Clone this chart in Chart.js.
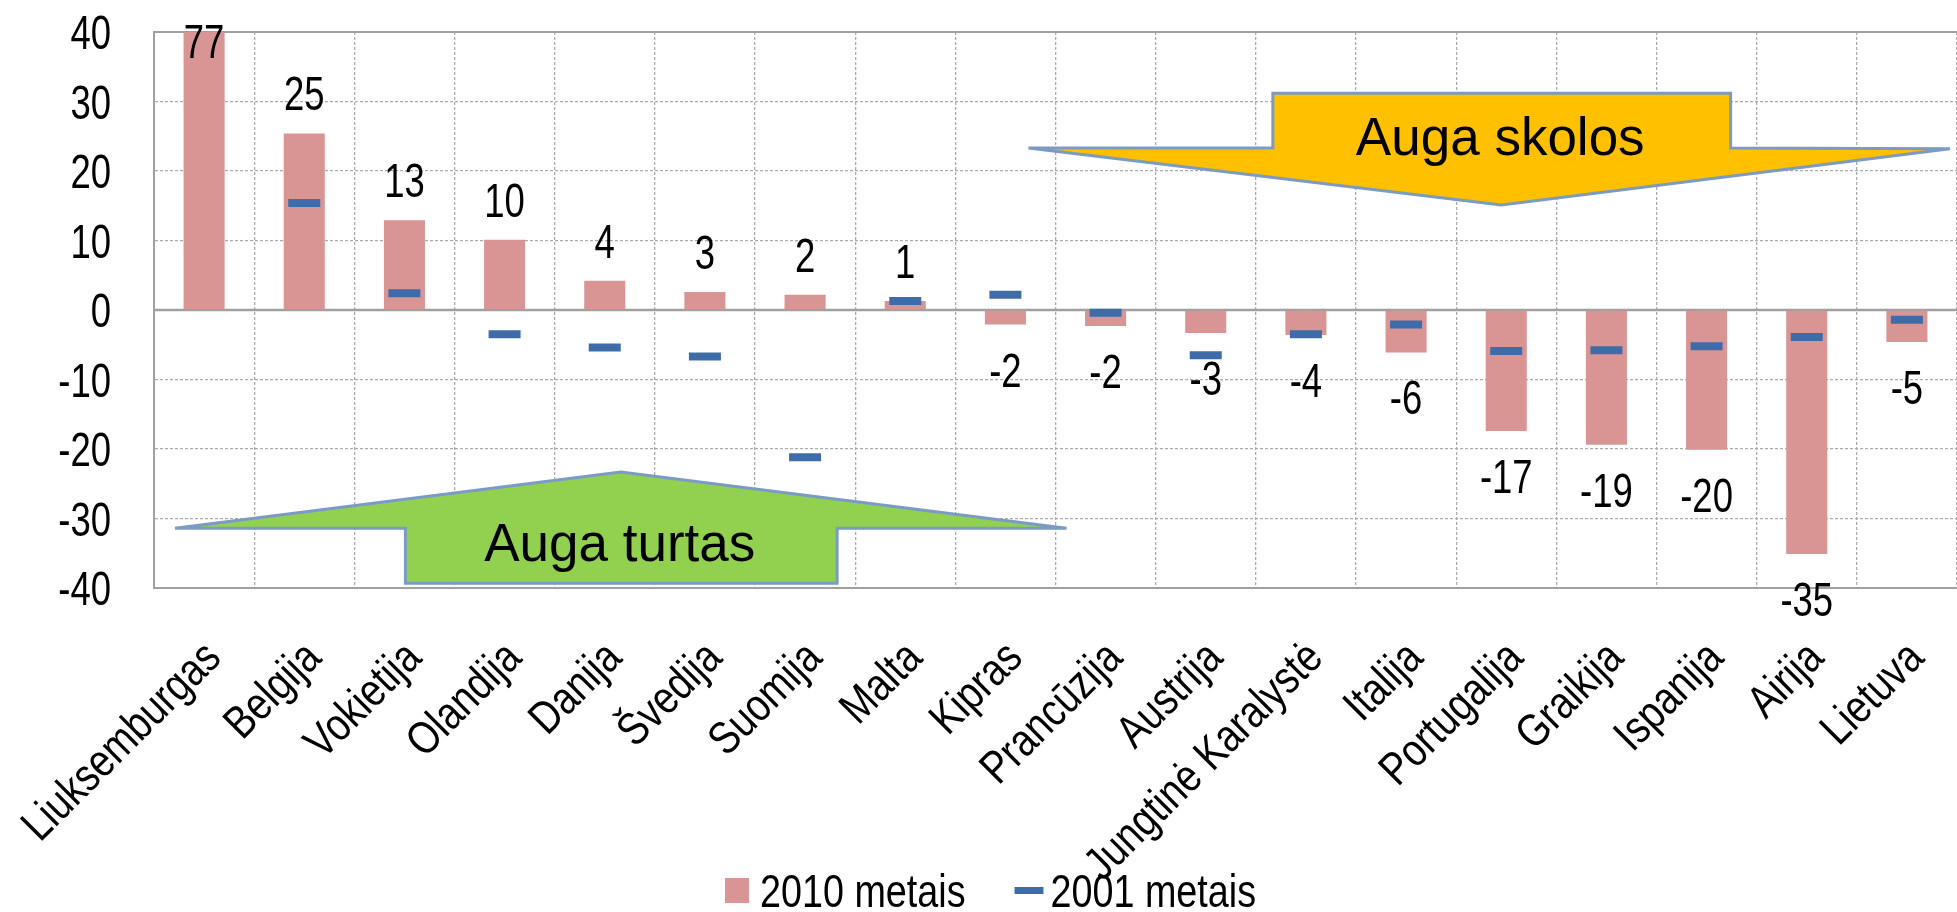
<!DOCTYPE html>
<html>
<head>
<meta charset="utf-8">
<script src="https://cdn.jsdelivr.net/npm/chart.js@4.4.1/dist/chart.umd.min.js"></script>
<style>
  html, body { margin: 0; padding: 0; background: #fff; }
  #wrap { width: 1957px; height: 912px; }
</style>
</head>
<body>
<div id="wrap"><canvas id="chart" width="1957" height="912"></canvas></div>
<script>
// chart values
const countries = ['Liuksemburgas', 'Belgija', 'Vokietija', 'Olandija', 'Danija', 'Švedija', 'Suomija', 'Malta', 'Kipras',
  'Prancūzija', 'Austrija', 'Jungtinė Karalystė', 'Italija', 'Portugalija', 'Graikija', 'Ispanija', 'Airija', 'Lietuva'];
const values2010 = [77, 25.4, 12.9, 10.1, 4.2, 2.6, 2.2, 1.3, -2.1, -2.3, -3.3, -3.6, -6.1, -17.4, -19.4, -20.1, -35.1, -4.6];
const values2001 = [null, 15.4, 2.4, -3.5, -5.4, -6.7, -21.2, 1.3, 2.2, -0.4, -6.5, -3.5, -2.1, -5.9, -5.8, -5.2, -3.9, -1.4];
const yTicks = [-40, -30, -20, -10, 0, 10, 20, 30, 40];
const seriesNames = ['2010 metais', '2001 metais'];

// the original uses a narrow font; no narrow face installed, so text is squeezed horizontally
const regular = '"Liberation Sans", Arial, sans-serif';
const pink = '#d99594';
const blue = '#3e6ca9';
const gridGrey = '#ababab';

function narrowText(ctx, text, x, y, sx, angle) {
  ctx.save();
  ctx.translate(x, y);
  if (angle) ctx.rotate(angle);
  ctx.scale(sx, 1);
  ctx.fillText(text, 0, 0);
  ctx.restore();
}

// arrow callouts, in (category index, value) units
const arrows = [
  {
    fill: '#ffc000', text: 'Auga skolos', textAt: [12.94, 22.3],
    pts: [[8.23, 23.3], [10.67, 23.3], [10.67, 31.2], [15.24, 31.2], [15.24, 23.3], [17.43, 23.2], [12.95, 15.1]]
  },
  {
    fill: '#92d050', text: 'Auga turtas', textAt: [4.15, -36.1],
    pts: [[-0.29, -31.4], [4.16, -23.3], [8.61, -31.4], [6.32, -31.4], [6.32, -39.3], [2.01, -39.3], [2.01, -31.4]]
  }
];

const framePlugin = {
  id: 'frame',
  beforeDatasetsDraw(chart) {
    const {ctx, chartArea, scales: {y}} = chart;
    ctx.save();
    ctx.strokeStyle = '#a0a0a0';
    [[40, 2], [0, 2.5]].forEach(([v, w]) => {
      const py = y.getPixelForValue(v);
      ctx.lineWidth = w;
      ctx.beginPath();
      ctx.moveTo(chartArea.left, py);
      ctx.lineTo(chartArea.right, py);
      ctx.stroke();
    });
    ctx.restore();
  }
};

const calloutPlugin = {
  id: 'callouts',
  afterDatasetsDraw(chart) {
    const {ctx, scales: {x, y}} = chart;
    ctx.save();
    arrows.forEach(a => {
      ctx.beginPath();
      a.pts.forEach(([i, v], k) => {
        const px = x.getPixelForValue(i), py = y.getPixelForValue(v);
        if (k) ctx.lineTo(px, py); else ctx.moveTo(px, py);
      });
      ctx.closePath();
      ctx.fillStyle = a.fill;
      ctx.fill();
      ctx.lineWidth = 3;
      ctx.strokeStyle = '#7b9bc4';
      ctx.stroke();
      ctx.fillStyle = '#000';
      ctx.font = '53px ' + regular;
      ctx.textAlign = 'center';
      ctx.textBaseline = 'alphabetic';
      ctx.fillText(a.text, x.getPixelForValue(a.textAt[0]), y.getPixelForValue(a.textAt[1]));
    });
    ctx.restore();
  }
};

const valueLabels = {
  id: 'valueLabels',
  afterDatasetsDraw(chart) {
    const {ctx, chartArea} = chart;
    const meta = chart.getDatasetMeta(0);
    ctx.save();
    ctx.font = '48px ' + regular;
    ctx.fillStyle = '#000';
    ctx.textAlign = 'center';
    ctx.textBaseline = 'alphabetic';
    meta.data.forEach((bar, i) => {
      const v = values2010[i];
      const mid = v >= 0 ? Math.max(bar.y - 40, chartArea.top + 9) : bar.y + 45;
      narrowText(ctx, String(Math.round(v)), bar.x, mid + 17, 0.76);
    });
    ctx.restore();
  }
};

const axisLabels = {
  id: 'axisLabels',
  afterDraw(chart) {
    const {ctx, scales: {x, y}} = chart;
    ctx.save();
    ctx.fillStyle = '#000';
    ctx.textAlign = 'right';
    ctx.textBaseline = 'alphabetic';
    ctx.font = '48px ' + regular;
    y.ticks.forEach(t => {
      narrowText(ctx, String(t.value), y.right - 43, y.getPixelForValue(t.value) + 17, 0.76);
    });
    ctx.font = '46px ' + regular;
    x.ticks.forEach((t, i) => {
      narrowText(ctx, chart.data.labels[i], x.getPixelForTick(i) + 19, x.top + 72, 0.83, -Math.PI / 4);
    });
    ctx.restore();
  }
};

const bottomLegend = {
  id: 'bottomLegend',
  afterDraw(chart) {
    const {ctx} = chart;
    const ds = chart.data.datasets;
    const sx = 0.82;
    ctx.save();
    ctx.font = '46px ' + regular;
    ctx.textBaseline = 'alphabetic';
    ctx.textAlign = 'left';
    const w0 = ctx.measureText(ds[0].label).width * sx;
    const w1 = ctx.measureText(ds[1].label).width * sx;
    const total = 24 + 11 + w0 + 49 + 29 + 7 + w1;
    let px = chart.width / 2 + 12 - total / 2;
    const cy = 890;
    ctx.fillStyle = ds[0].backgroundColor;
    ctx.fillRect(px, cy - 12, 24, 25);
    px += 24 + 11;
    ctx.fillStyle = '#000';
    narrowText(ctx, ds[0].label, px, cy + 16.5, sx);
    px += w0 + 49;
    ctx.fillStyle = ds[1].pointBorderColor;
    ctx.fillRect(px, cy - 3, 29, 7);
    px += 29 + 7;
    ctx.fillStyle = '#000';
    narrowText(ctx, ds[1].label, px, cy + 16.5, sx);
    ctx.restore();
  }
};

new Chart(document.getElementById('chart'), {
  type: 'bar',
  data: {
    labels: countries,
    datasets: [
      {
        type: 'bar',
        label: seriesNames[0],
        data: values2010,
        backgroundColor: pink,
        categoryPercentage: 1,
        barPercentage: 0.41,
        order: 2
      },
      {
        type: 'line',
        label: seriesNames[1],
        data: values2001,
        showLine: false,
        pointStyle: 'line',
        pointRadius: 16,
        pointHoverRadius: 16,
        pointBorderWidth: 8,
        pointBorderColor: blue,
        pointBackgroundColor: blue,
        order: 1
      }
    ]
  },
  options: {
    responsive: false,
    animation: false,
    layout: { autoPadding: false, padding: { top: 32, right: 0, bottom: 0, left: 0 } },
    plugins: { legend: { display: false }, tooltip: { enabled: false } },
    scales: {
      x: {
        offset: true,
        grid: { color: gridGrey, lineWidth: 1.3, drawTicks: false, offset: true },
        border: { color: '#a0a0a0', width: 2, dash: [3, 2] },
        ticks: { display: false, autoSkip: false },
        afterFit: s => { s.height = 324; }
      },
      y: {
        min: -40, max: 40,
        afterBuildTicks: s => { s.ticks = yTicks.map(v => ({ value: v })); },
        grid: { color: gridGrey, lineWidth: 1.3, drawTicks: false },
        border: { color: '#a0a0a0', width: 2, dash: [3, 2] },
        ticks: { display: false },
        afterFit: s => { s.width = 154; }
      }
    }
  },
  plugins: [framePlugin, calloutPlugin, valueLabels, axisLabels, bottomLegend]
});
</script>
</body>
</html>
